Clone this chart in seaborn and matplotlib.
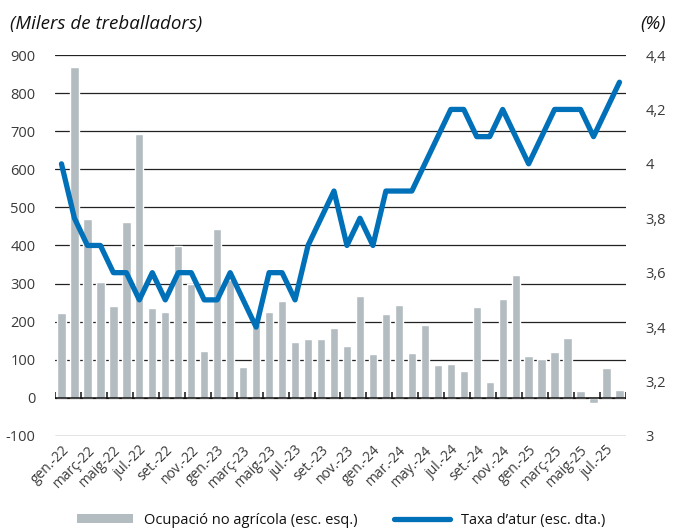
import numpy as np
import pandas as pd
import matplotlib
matplotlib.use("Agg")
import matplotlib.pyplot as plt
import seaborn as sns
from matplotlib.patches import Patch
from matplotlib.lines import Line2D

# monthly data, gen-22 .. ago-25
months = [
    "gen.-22", "febr.-22", "març-22", "abr.-22", "maig-22", "juny-22", "jul.-22", "ag.-22",
    "set.-22", "oct.-22", "nov.-22", "des.-22",
    "gen.-23", "febr.-23", "març-23", "abr.-23", "maig-23", "juny-23", "jul.-23", "ag.-23",
    "set.-23", "oct.-23", "nov.-23", "des.-23",
    "gen.-24", "febr.-24", "mar.-24", "abr.-24", "may.-24", "jun.-24", "jul.-24", "ag.-24",
    "set.-24", "oct.-24", "nov.-24", "des.-24",
    "gen.-25", "febr.-25", "març-25", "abr.-25", "maig-25", "juny-25", "jul.-25", "ag.-25",
]
ocupacio = [
    223, 869, 469, 303, 241, 461, 693, 236, 226, 399, 300, 123,
    443, 310, 82, 195, 224, 255, 147, 155, 155, 183, 137, 268,
    116, 220, 244, 117, 191, 85, 88, 70, 238, 41, 259, 322,
    111, 101, 120, 157, 18, -13, 79, 20,
]
taxa_atur = [
    4.0, 3.8, 3.7, 3.7, 3.6, 3.6, 3.5, 3.6, 3.5, 3.6, 3.6, 3.5,
    3.5, 3.6, 3.5, 3.4, 3.6, 3.6, 3.5, 3.7, 3.8, 3.9, 3.7, 3.8,
    3.7, 3.9, 3.9, 3.9, 4.0, 4.1, 4.2, 4.2, 4.1, 4.1, 4.2, 4.1,
    4.0, 4.1, 4.2, 4.2, 4.2, 4.1, 4.2, 4.3,
]
left_ticks = [-100, 0, 100, 200, 300, 400, 500, 600, 700, 800, 900]
right_ticks = [3.0, 3.2, 3.4, 3.6, 3.8, 4.0, 4.2, 4.4]
right_labels = ["3", "3,2", "3,4", "3,6", "3,8", "4", "4,2", "4,4"]

bar_color = "#b3bdc1"
line_color = "#0071b9"
text_color = "#3a3a3a"

df = pd.DataFrame({"mes": months, "ocupacio": ocupacio, "taxa": taxa_atur})
df["pos"] = np.arange(len(df))

sns.set_style("white")
plt.rcParams["font.family"] = ["Open Sans", "DejaVu Sans"]

fig = plt.figure(figsize=(6.83, 5.29), dpi=100)
ax = fig.add_axes([0.0805, 0.176, 0.836, 0.720])

sns.barplot(data=df, x="pos", y="ocupacio", color=bar_color, saturation=1,
            width=0.64, ax=ax, zorder=2)
ax.set_xlim(-0.5, len(df) - 0.5)
ax.set_ylim(-100, 900)
ax.set_yticks(left_ticks)
ax.set_yticklabels([str(t) for t in left_ticks])
ax.yaxis.grid(True, color="#222222", lw=0.9, zorder=0)
ax.set_axisbelow(True)
for s in ax.spines.values():
    s.set_visible(False)
ax.axhline(0, color="#111111", lw=1.1, zorder=3)
# small upward ticks on the zero line every two months
ax.vlines(np.arange(-0.5, len(df), 2), 0, 16, color="#111111", lw=1.1, zorder=3)

ax.set_xticks(df["pos"][::2])
ax.set_xticklabels(df["mes"][::2], rotation=45, ha="right", rotation_mode="anchor",
                   fontsize=10, color=text_color)
ax.tick_params(axis="x", length=0, pad=5)
ax.tick_params(axis="y", length=0, pad=14, labelsize=10.5, labelcolor=text_color)
ax.set_xlabel("")
ax.set_ylabel("")
for lbl in ax.get_xticklabels():
    lbl.set_x(lbl.get_position()[0])

ax2 = ax.twinx()
sns.lineplot(data=df, x="pos", y="taxa", color=line_color, lw=3.8, ax=ax2, zorder=4)
ax2.set_ylim(3.0, 4.4)
ax2.set_yticks(right_ticks)
ax2.set_yticklabels(right_labels)
ax2.tick_params(axis="y", length=0, pad=14, labelsize=10.5, labelcolor=text_color)
ax2.set_ylabel("")
for s in ax2.spines.values():
    s.set_visible(False)

fig.text(0.014, 0.955, "(Milers de treballadors)", fontsize=13.5, style="italic",
         color="#111111", ha="left", va="center")
fig.text(0.938, 0.955, "(%)", fontsize=13.5, style="italic",
         color="#111111", ha="left", va="center")

handles = [Patch(facecolor=bar_color, edgecolor="none"),
           Line2D([0], [0], color=line_color, lw=3.8)]
fig.legend(handles, ["Ocupació no agrícola (esc. esq.)", "Taxa d’atur (esc. dta.)"],
           loc="lower center", bbox_to_anchor=(0.5, -0.022), ncol=2, frameon=False,
           fontsize=10.5, handlelength=3.8, handleheight=0.6, columnspacing=2.5,
           labelcolor="#111111")

fig.savefig("out.png", dpi=100)
